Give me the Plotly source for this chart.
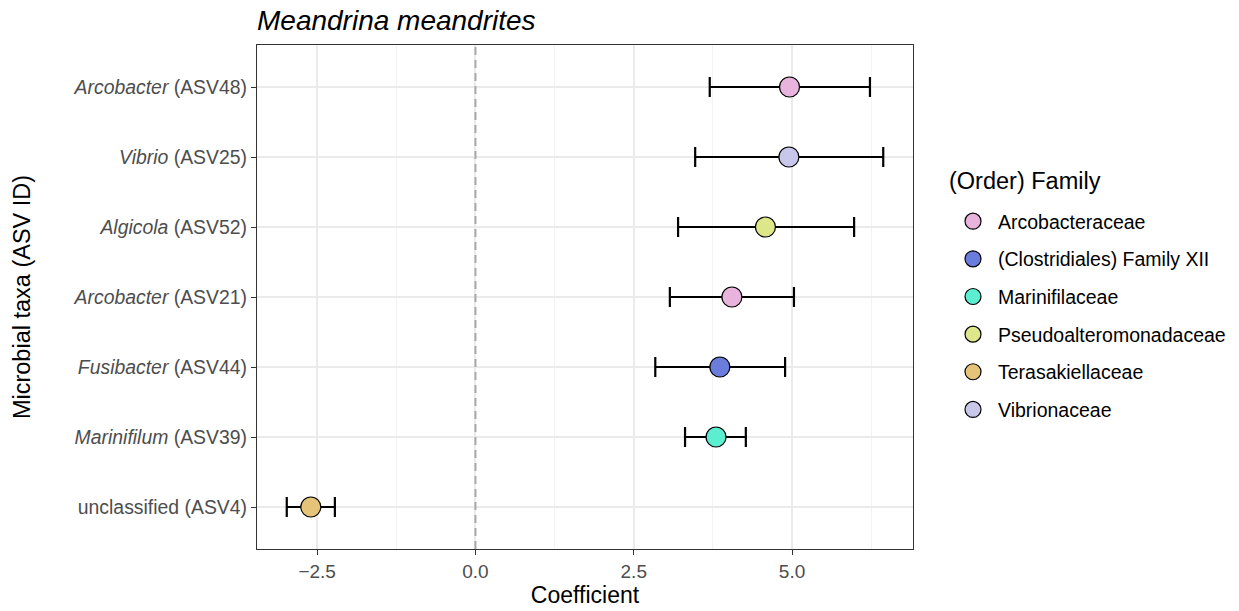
import plotly.graph_objects as go

# Taxa (top to bottom as displayed)
taxa = [
    "<i>Arcobacter</i> (ASV48)",
    "<i>Vibrio</i> (ASV25)",
    "<i>Algicola</i> (ASV52)",
    "<i>Arcobacter</i> (ASV21)",
    "<i>Fusibacter</i> (ASV44)",
    "<i>Marinifilum</i> (ASV39)",
    "unclassified (ASV4)",
]
families = [
    "Arcobacteraceae",
    "Vibrionaceae",
    "Pseudoalteromonadaceae",
    "Arcobacteraceae",
    "(Clostridiales) Family XII",
    "Marinifilaceae",
    "Terasakiellaceae",
]
coef = [4.96, 4.95, 4.58, 4.05, 3.86, 3.80, -2.60]
ci_low = [3.70, 3.47, 3.20, 3.07, 2.84, 3.31, -2.98]
ci_high = [6.23, 6.44, 5.98, 5.03, 4.89, 4.27, -2.22]

family_order = [
    "Arcobacteraceae",
    "(Clostridiales) Family XII",
    "Marinifilaceae",
    "Pseudoalteromonadaceae",
    "Terasakiellaceae",
    "Vibrionaceae",
]
family_colors = {
    "Arcobacteraceae": "#E8B4DE",
    "(Clostridiales) Family XII": "#6A7DDC",
    "Marinifilaceae": "#5CEED0",
    "Pseudoalteromonadaceae": "#DEE68A",
    "Terasakiellaceae": "#E5C47A",
    "Vibrionaceae": "#C8C6E9",
}

FONT = "Liberation Sans, Arial, Helvetica, sans-serif"
W, H = 1239, 611
ML, MR, MT, MB = 257, 326, 45, 62
PW, PH = W - ML - MR, H - MT - MB


def px_x(x):
    return (x - ML) / PW


def px_y(y):
    return (H - MB - y) / PH


fig = go.Figure()

# Zero reference line
fig.add_shape(type="line", xref="x", yref="paper", x0=0, x1=0, y0=0, y1=1,
              line=dict(color="#A8A8A8", width=2, dash="8px,5px"), layer="above")

for fam in family_order:
    idx = [i for i, f in enumerate(families) if f == fam]
    xs = [coef[i] for i in idx]
    ys = [taxa[i] for i in idx]
    plus = [ci_high[i] - coef[i] for i in idx]
    minus = [coef[i] - ci_low[i] for i in idx]
    fig.add_trace(go.Scatter(
        x=xs, y=ys, mode="markers", name=fam, legendgroup=fam,
        marker=dict(size=20, color=family_colors[fam],
                    line=dict(color="black", width=1.2)),
        error_x=dict(type="data", symmetric=False, array=plus, arrayminus=minus,
                     color="black", thickness=2.2, width=10),
    ))

# Legend heading
fig.add_annotation(text="(Order) Family", xref="paper", yref="paper",
                   x=px_x(947), y=px_y(181), xanchor="left", yanchor="middle",
                   showarrow=False, font=dict(size=23.5, color="black", family=FONT))

fig.update_layout(
    width=W, height=H,
    margin=dict(l=ML, r=MR, t=MT, b=MB, autoexpand=False),
    paper_bgcolor="white", plot_bgcolor="white",
    font=dict(family=FONT, color="black"),
    title=dict(text="<i>Meandrina meandrites</i>", x=0, xref="paper", xanchor="left",
               y=1 - 20 / 611, yref="container", yanchor="middle",
               font=dict(size=28, color="black", family=FONT)),
    legend=dict(
        font=dict(size=19.5, color="black"),
        x=px_x(948), xanchor="left", y=px_y(202), yanchor="top",
        tracegroupgap=9.3, itemwidth=40,
        bgcolor="rgba(0,0,0,0)",
    ),
    xaxis=dict(
        range=[-3.45, 6.91],
        tickvals=[-2.5, 0, 2.5, 5.0],
        ticktext=["\u22122.5", "0.0", "2.5", "5.0"],
        ticks="outside", ticklen=5, tickwidth=1.2, tickcolor="#333333",
        tickfont=dict(size=19, color="#4D4D4D"),
        showgrid=True, gridcolor="#EBEBEB", gridwidth=2.2,
        minor=dict(tickvals=[-1.25, 1.25, 3.75, 6.25], showgrid=True,
                   gridcolor="#F3F3F3", gridwidth=1.1, ticks=""),
        showline=True, linecolor="#333333", linewidth=1.2, mirror=True,
        zeroline=False, automargin=False,
        title=dict(text="Coefficient", font=dict(size=23, color="black"), standoff=3),
    ),
    yaxis=dict(
        type="category",
        categoryorder="array", categoryarray=taxa[::-1],
        range=[-0.6, 6.6],
        ticks="outside", ticklen=5, tickwidth=1.2, tickcolor="#333333",
        tickfont=dict(size=19.4, color="#4D4D4D"),
        showgrid=True, gridcolor="#EBEBEB", gridwidth=2.2,
        showline=True, linecolor="#333333", linewidth=1.2, mirror=True,
        zeroline=False, automargin=False,
        title=dict(text="Microbial taxa (ASV ID)", font=dict(size=23.5, color="black"), standoff=36),
    ),
)

fig.write_html("out.html")
